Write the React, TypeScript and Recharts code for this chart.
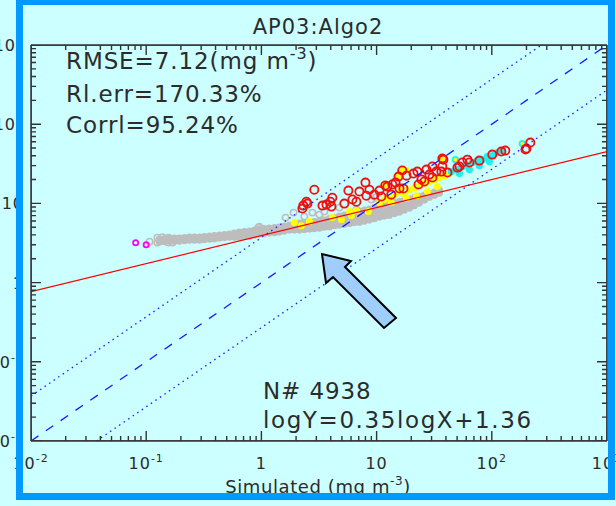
import React from 'react';
import { ScatterChart, Scatter, XAxis, YAxis } from 'recharts';

// axis ticks (log decades)
const MAJOR_TICKS = [0.01, 0.1, 1, 10, 100, 1000];
const MINOR_STEPS = [2, 3, 4, 5, 6, 7, 8, 9];
const TICK_LABELS = [
  { base: '10', sup: '-2' },
  { base: '10', sup: '-1' },
  { base: '1', sup: '' },
  { base: '10', sup: '' },
  { base: '10', sup: '2' },
  { base: '10', sup: '3' },
];

// gray cloud: x, then the y values read in that column
const GRAY_BAND: [number, number[]][] = [
  [0.13, [3.55, 3.25]], [0.144, [3.59, 3.29]], [0.159, [3.65, 3.34]], [0.176, [3.65, 3.34]],
  [0.194, [3.65, 3.34]], [0.215, [3.7, 3.39]], [0.237, [3.75, 3.44]], [0.262, [3.75, 3.44]],
  [0.29, [3.75, 3.44]], [0.32, [3.81, 3.49]], [0.354, [3.86, 3.54]], [0.391, [3.92, 3.59]],
  [0.432, [3.98, 3.65]], [0.477, [4.04, 3.7]], [0.528, [4.1, 3.75]], [0.583, [4.22, 3.75]],
  [0.644, [4.34, 3.75]], [0.712, [4.4, 3.81]], [0.787, [4.47, 3.86]], [0.869, [4.6, 3.98]],
  [0.961, [4.74, 4.1]], [1.06, [4.81, 4.16]], [1.17, [4.88, 4.22]], [1.3, [4.95, 4.28]],
  [1.43, [5.02, 4.34]], [1.58, [5.16, 4.47]], [1.75, [5.32, 4.6]], [1.93, [5.48, 4.6]],
  [2.14, [5.64, 5.09, 4.6]], [2.36, [5.72, 5.16, 4.67]], [2.61, [5.8, 5.24, 4.74]],
  [2.88, [5.89, 5.32, 4.81]], [3.19, [5.98, 5.4, 4.88]], [3.52, [6.15, 5.56, 5.02]],
  [3.89, [6.43, 5.72, 5.09]], [4.3, [6.62, 5.89, 5.24]], [4.75, [6.91, 6.07, 5.32]],
  [5.25, [7.11, 6.24, 5.48]], [5.81, [7.43, 6.43, 5.56]], [6.41, [7.65, 6.62, 5.72]],
  [7.09, [8.0, 6.81, 5.8]], [7.84, [8.23, 7.01, 5.98]], [8.66, [8.47, 7.22, 6.15]],
  [9.57, [8.85, 7.54, 6.43]], [10.6, [9.24, 7.88, 6.71]], [11.7, [9.52, 8.11, 6.91]],
  [12.9, [9.8, 8.35, 7.11]], [14.3, [10.2, 8.72, 7.43]], [15.8, [10.6, 9.11, 7.76]],
  [17.4, [11.0, 9.52, 8.23]], [19.3, [11.3, 9.94, 8.72]], [21.3, [11.8, 10.5, 9.38]],
  [23.5, [12.3, 11.2, 10.1]], [26.0, [12.7, 11.0]], [28.7, [13.1, 12.0]],
  [31.8, [13.9, 12.7]], [35.1, [14.7, 13.5]],
];

const GRAY_OPEN: [number, number][] = [
  [0.107, 3.29], [0.125, 3.7], [0.125, 3.2], [0.138, 3.73], [0.156, 3.7], [0.156, 3.2],
  [0.169, 3.2], [0.94, 4.95], [0.96, 5.09], [1.62, 6.62], [1.9, 7.65], [2.36, 6.81],
  [2.77, 7.65], [3.19, 7.22], [3.52, 7.88], [4.75, 8.85], [6.68, 8.35], [9.02, 11.2],
  [9.77, 11.8],
];

const MAGENTA: [number, number][] = [[0.081, 3.19], [0.1, 3.0]];

const YELLOW: [number, number][] = [
  [1.93, 5.72], [2.22, 5.24], [2.61, 5.89], [4.13, 6.62], [4.95, 6.24], [5.81, 7.88],
  [6.04, 7.01], [6.68, 8.11], [8.49, 7.88], [10.6, 10.2], [11.7, 11.2], [12.2, 17.3],
  [16.4, 16.3], [16.7, 26.0], [15.5, 21.8], [12.9, 11.8], [14.3, 12.9], [15.8, 13.7],
  [17.4, 12.9], [19.3, 14.9], [21.3, 15.8], [23.5, 16.8], [26.0, 17.8], [28.7, 18.9],
  [31.8, 20.0], [35.1, 21.2], [38.8, 22.4], [42.9, 23.8], [13.4, 10.2], [18.2, 11.5],
  [22.2, 12.5], [27.6, 14.1], [33.7, 16.3], [38.0, 35.7], [11.7, 17.3], [15.2, 22.4],
  [18.2, 26.0],
];

const CYAN: [number, number][] = [
  [44.6, 25.2], [50.3, 26.7], [55.6, 29.2], [61.4, 30.0], [67.9, 32.8], [75.0, 34.7],
  [82.8, 35.7], [91.5, 39.0], [101, 40.1], [112, 43.8], [124, 46.4], [52.4, 23.8],
  [63.9, 26.7], [78.0, 30.0], [95.3, 33.7], [48.3, 35.7], [184, 56.9],
];

const CYAN_CORE: [number, number][] = [[48.3, 35.7], [184, 56.9]];

const RED: [number, number][] = [
  [2.88, 14.9], [2.46, 10.5], [2.51, 9.94], [2.31, 9.38], [2.27, 8.6], [3.39, 9.38],
  [3.67, 9.66], [4.05, 9.11], [4.13, 11.8], [3.97, 10.5], [5.25, 9.94], [5.69, 14.5],
  [6.17, 11.2], [6.68, 10.5], [7.09, 14.1], [8.0, 18.3], [8.15, 12.5], [8.66, 14.9],
  [10.6, 14.5], [11.0, 12.2], [11.9, 16.8], [13.7, 17.3], [15.5, 21.8], [15.8, 15.4],
  [16.7, 26.0], [17.1, 15.4], [20.9, 23.8], [22.6, 25.2], [24.5, 20.0], [26.0, 18.9],
  [27.1, 26.7], [28.7, 23.1], [30.5, 21.2], [33.0, 25.2], [36.5, 25.2], [38.0, 35.7],
  [37.2, 29.2], [41.2, 24.5], [50.3, 28.3], [52.4, 29.2], [55.6, 32.8], [61.4, 35.7],
  [78.0, 34.7], [101, 41.3], [121, 45.1], [131, 46.4], [196, 47.8], [216, 58.6],
  [18.2, 22.4], [23.1, 17.3], [30.5, 29.2], [37.2, 36.8], [63.9, 32.8], [200, 49.2],
  [12.4, 16.3], [13.4, 12.9], [9.57, 12.9], [14.6, 18.3],
];

// guide lines
const ONE_TO_ONE: [number, number][] = [[0.01, 0.01], [1000, 1000]];
const UPPER_BAND: [number, number][] = [[0.01, 0.037], [270, 1000]];
const LOWER_BAND: [number, number][] = [[0.037, 0.01], [1000, 270]];
const FIT_LINE: [number, number][] = [[0.01, 0.77], [1000, 45]];

// chart geometry
const W = 616;
const H = 506;
const LEFT_W = 31;
const RIGHT_W = 9;
const TOP_H = 45;
const BOTTOM_H = 65;

const toPts = (arr: [number, number][]) => arr.map(([x, y]) => ({ x, y }));
const grayBand = GRAY_BAND.flatMap(([x, ys]) => ys.map((y) => ({ x, y })));
const axisTicks = [
  ...MAJOR_TICKS,
  ...MAJOR_TICKS.slice(0, -1).flatMap((d) => MINOR_STEPS.map((m) => d * m)),
].sort((a, b) => a - b);
const LO = MAJOR_TICKS[0];
const HI = MAJOR_TICKS[MAJOR_TICKS.length - 1];
const DECADES = Math.log10(HI / LO);
const isMajor = (v: number) => MAJOR_TICKS.some((m) => Math.abs(m - v) / m < 1e-6);

// tick lengths in px turned into log-axis factors
const xStep = (px: number) => Math.pow(10, (px * DECADES) / (W - LEFT_W - RIGHT_W));
const yStep = (px: number) => Math.pow(10, (px * DECADES) / (H - TOP_H - BOTTOM_H));
const tickLen = (v: number) => (isMajor(v) ? 10 : 5);

// each side is one zigzag polyline: along the axis, in for the tick, back out
const bottomTicks = axisTicks.flatMap((v) => [
  { x: v, y: LO }, { x: v, y: LO * yStep(tickLen(v)) }, { x: v, y: LO },
]);
const topTicks = axisTicks.flatMap((v) => [
  { x: v, y: HI }, { x: v, y: HI / yStep(tickLen(v)) }, { x: v, y: HI },
]);
const leftTicks = axisTicks.flatMap((v) => [
  { x: LO, y: v }, { x: LO * xStep(tickLen(v)), y: v }, { x: LO, y: v },
]);
const rightTicks = axisTicks.flatMap((v) => [
  { x: HI, y: v }, { x: HI / xStep(tickLen(v)), y: v }, { x: HI, y: v },
]);

const FONT = 'DejaVu Sans';
const INK = '#2b2b2b';
const AXIS = '#333333';

function AxisLabel(props: any) {
  const { x, y, payload, side } = props;
  const v = Number(payload?.value);
  const idx = MAJOR_TICKS.findIndex((m) => Math.abs(m - v) / m < 1e-6);
  if (idx < 0) return <g />;
  const lab = TICK_LABELS[idx];
  const tx = side === 'bottom' ? x : x - 7;
  const ty = side === 'bottom' ? y + 28 : y + 6;
  return (
    <text x={tx} y={ty} textAnchor={side === 'bottom' ? 'middle' : 'end'}
      fontFamily={FONT} fontSize={16} letterSpacing={1} fill={INK} stroke="none">
      {lab.base}
      {lab.sup && <tspan dy={-7} fontSize={11}>{lab.sup}</tspan>}
    </text>
  );
}

const dot = (r: number, fill: string, stroke = 'none', sw = 0) => (p: any) => (
  <circle cx={p.cx} cy={p.cy} r={r} fill={fill} stroke={stroke} strokeWidth={sw} />
);
const noShape = () => <g />;
const tickLine = { stroke: AXIS, strokeWidth: 1.4 };

export default function App() {
  const axisProps = {
    type: 'number' as const,
    scale: 'log' as const,
    domain: [LO, HI],
    ticks: axisTicks,
    interval: 0 as const,
    allowDataOverflow: true,
    tickLine: false,
    tickSize: 0,
    tickMargin: 0,
    axisLine: { stroke: AXIS, strokeWidth: 1.5 },
  };
  return (
    <div style={{ position: 'fixed', left: 0, top: 0, width: W, height: H, background: '#ccffff', overflow: 'hidden' }}>
      <div style={{ position: 'absolute', left: 0, top: 0 }}>
        <ScatterChart width={W} height={H} margin={{ top: 0, right: 0, bottom: 0, left: 0 }}>
          <XAxis xAxisId={0} dataKey="x" orientation="bottom" height={BOTTOM_H} {...axisProps}
            tick={(p: any) => <AxisLabel {...p} side="bottom" />} />
          <XAxis xAxisId="top" orientation="top" height={TOP_H} {...axisProps} tick={false} />
          <YAxis yAxisId={0} dataKey="y" orientation="left" width={LEFT_W} {...axisProps}
            tick={(p: any) => <AxisLabel {...p} side="left" />} />
          <YAxis yAxisId="right" orientation="right" width={RIGHT_W} {...axisProps} tick={false} />

          <Scatter data={grayBand} isAnimationActive={false} shape={dot(3.6, '#bdbdbd')} />
          <Scatter data={toPts(GRAY_OPEN)} isAnimationActive={false} shape={dot(3.2, 'none', '#bdbdbd', 1.5)} />
          <Scatter data={toPts(MAGENTA)} isAnimationActive={false} shape={dot(2.6, 'none', '#ff00ff', 1.8)} />
          <Scatter data={toPts(YELLOW)} isAnimationActive={false} shape={dot(3.5, '#ffff00')} />
          <Scatter data={toPts(CYAN)} isAnimationActive={false} shape={dot(3.6, '#1ef0f0')} />
          <Scatter data={toPts(CYAN_CORE)} isAnimationActive={false} shape={dot(1.8, '#ffff00')} />
          <Scatter data={toPts(RED)} isAnimationActive={false} shape={dot(4.1, 'none', '#f01010', 1.8)} />

          <Scatter data={toPts(FIT_LINE)} isAnimationActive={false} shape={noShape}
            line={{ stroke: '#ff0000', strokeWidth: 1.2 }} />
          <Scatter data={toPts(ONE_TO_ONE)} isAnimationActive={false} shape={noShape}
            line={{ stroke: '#1a1aff', strokeWidth: 1.3, strokeDasharray: '9 9' }} />
          <Scatter data={toPts(UPPER_BAND)} isAnimationActive={false} shape={noShape}
            line={{ stroke: '#1a1aff', strokeWidth: 1.3, strokeDasharray: '1.5 4' }} />
          <Scatter data={toPts(LOWER_BAND)} isAnimationActive={false} shape={noShape}
            line={{ stroke: '#1a1aff', strokeWidth: 1.3, strokeDasharray: '1.5 4' }} />

          <Scatter data={bottomTicks} isAnimationActive={false} shape={noShape} line={tickLine} />
          <Scatter data={topTicks} isAnimationActive={false} shape={noShape} line={tickLine} />
          <Scatter data={leftTicks} isAnimationActive={false} shape={noShape} line={tickLine} />
          <Scatter data={rightTicks} isAnimationActive={false} shape={noShape} line={tickLine} />
        </ScatterChart>
      </div>
      <svg width={W} height={H} style={{ position: 'absolute', left: 0, top: 0, pointerEvents: 'none' }}
        fontFamily={FONT} fill={INK}>
        <text x={318} y={34} textAnchor="middle" fontSize={21} letterSpacing={1}>AP03:Algo2</text>
        <g fontSize={23} letterSpacing={0.9}>
          <text x={66} y={69}>RMSE=7.12(mg m<tspan dy={-10} fontSize={16}>-3</tspan><tspan dy={10}>)</tspan></text>
          <text x={66} y={102}>Rl.err=170.33%</text>
          <text x={66} y={133}>Corrl=95.24%</text>
          <text x={263} y={399}>N# 4938</text>
          <text x={263} y={428} letterSpacing={1.6}>logY=0.35logX+1.36</text>
        </g>
        <text x={318} y={493} textAnchor="middle" fontSize={18} letterSpacing={0.6}>
          Simulated (mg m<tspan dy={-8} fontSize={12}>-3</tspan><tspan dy={8}>)</tspan>
        </text>
        <polygon points="322,254 326,283 333,277 384,328 396,318 345,267 351,261"
          fill="#9fcdfc" stroke="#000" strokeWidth={2} strokeLinejoin="miter" />
        <rect x={19.5} y={1.5} width={592} height={495} fill="none" stroke="#0099ff" strokeWidth={7} />
      </svg>
    </div>
  );
}
